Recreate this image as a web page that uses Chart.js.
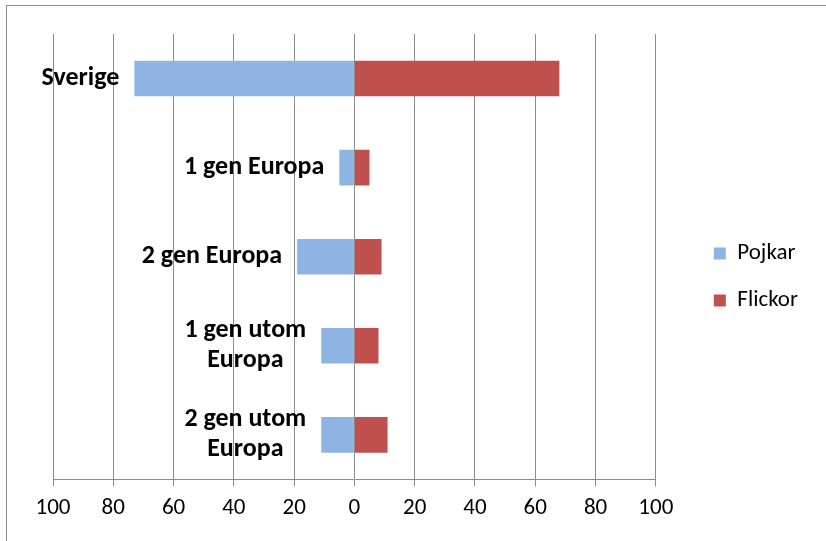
<!DOCTYPE html>
<html>
<head>
<meta charset="utf-8">
<script src="https://cdn.jsdelivr.net/npm/chart.js@4"></script>
<style>
  body { margin: 0; background: #fff; }
  #wrap { position: relative; width: 826px; height: 541px; }
  #frame { position: absolute; left: 6px; top: 5px; width: 900px; height: 600px;
           border-left: 1px solid #8c8c8c; border-top: 1px solid #8c8c8c; pointer-events: none; }
</style>
</head>
<body>
<div id="wrap">
  <canvas id="chartCanvas" width="826" height="541"></canvas>
  <div id="frame"></div>
</div>
<script>
// Pojkar / Flickor per background, drawn as a butterfly chart

const categories = ['Sverige', '1 gen Europa', '2 gen Europa', ['1 gen utom', 'Europa'], ['2 gen utom', 'Europa']];
const pojkar = [73, 5, 19, 11, 11];
const flickor = [68, 5, 9, 8, 11];
const xTicks = [-100, -80, -60, -40, -20, 0, 20, 40, 60, 80, 100];

const FONT = "Carlito, Lato, 'Open Sans', sans-serif";

// category names sit just left of the Pojkar bar (like Excel data labels)
const barLabels = {
    id: 'barLabels',
    afterDatasetsDraw(chart) {
        const ctx = chart.ctx;
        const x = chart.scales.x, y = chart.scales.y;
        ctx.save();
        ctx.font = 'bold 26px ' + FONT;
        ctx.fillStyle = '#000';
        ctx.textBaseline = 'middle';
        ctx.textAlign = 'center';
        categories.forEach(function(cat, i) {
            const lines = Array.isArray(cat) ? cat : [cat];
            const w = Math.max.apply(Math, lines.map(l => ctx.measureText(l).width));
            const right = x.getPixelForValue(-pojkar[i]) - 15;
            const cy = y.getPixelForValue(i);
            const lh = 30;
            lines.forEach(function(l, k) {
                ctx.fillText(l, right - w / 2, cy + (k - (lines.length - 1) / 2) * lh);
            });
        });
        ctx.restore();
    }
};

// push the legend away from the plot, as in the original
const legendShift = {
    id: 'legendShift',
    afterLayout(chart) {
        chart.legend.left += 34;
        chart.legend.right += 34;
        chart.legend.top -= 5;
        chart.legend.bottom -= 5;
    }
};

new Chart(document.getElementById('chartCanvas'), {
    type: 'bar',
    data: {
        labels: categories,
        datasets: [{
            label: 'Pojkar',
            data: pojkar.map(v => -v),
            backgroundColor: '#8EB4E3',
            categoryPercentage: 1,
            barPercentage: 0.4
        }, {
            label: 'Flickor',
            data: flickor,
            backgroundColor: '#C0504D',
            categoryPercentage: 1,
            barPercentage: 0.4
        }]
    },
    options: {
        indexAxis: 'y',
        responsive: false,
        animation: false,
        layout: {padding: {left: 53, top: 34, right: 52, bottom: 11}},
        plugins: {
            legend: {
                position: 'right',
                labels: {
                    boxWidth: 12, boxHeight: 12, padding: 24,
                    color: '#000',
                    font: {family: FONT, size: 23}
                }
            },
            tooltip: {enabled: false}
        },
        scales: {
            x: {
                stacked: true,
                min: -100, max: 100,
                afterBuildTicks: function(axis) { axis.ticks = xTicks.map(v => ({value: v})); },
                ticks: {
                    color: '#000',
                    font: {family: FONT, size: 23},
                    maxRotation: 0,
                    padding: 8,
                    callback: v => Math.abs(v)
                },
                grid: {color: '#8c8c8c', tickLength: 7},
                border: {color: '#8c8c8c'}
            },
            y: {
                stacked: true,
                display: false
            }
        }
    },
    plugins: [barLabels, legendShift]
});
</script>
</body>
</html>
